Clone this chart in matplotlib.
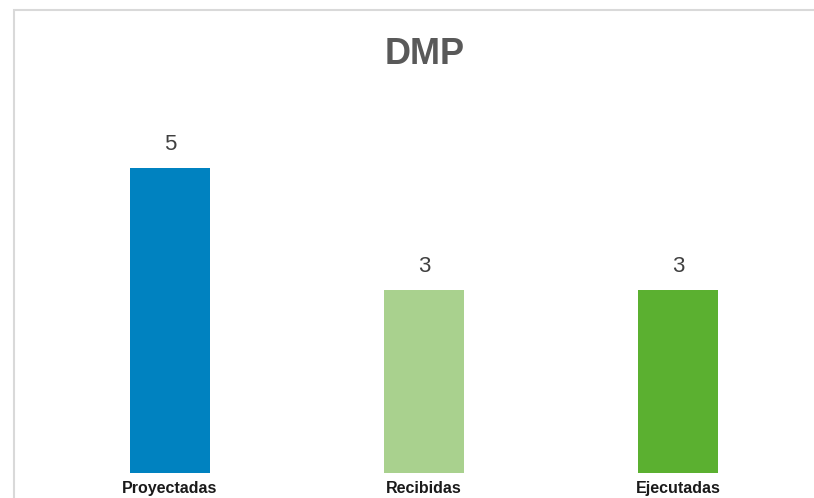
import matplotlib
matplotlib.use('Agg')
import matplotlib.pyplot as plt
from matplotlib.patches import Rectangle

plt.rcParams['font.family'] = ['Liberation Sans', 'DejaVu Sans']

# data
categorias = ['Proyectadas', 'Recibidas', 'Ejecutadas']
valores = [5, 3, 3]
colores = ['#0082C0', '#A9D18E', '#5BB030']

fig = plt.figure(figsize=(8.14, 4.98), dpi=100)
# light gray frame like the excel chart border
fig.patches.append(Rectangle((14/814, -0.1), 1.0, 1 - 10/498 + 0.1, transform=fig.transFigure,
                             fill=False, edgecolor='#D9D9D9', linewidth=1.5))

ax = fig.add_axes([43/814, 25/498, 762/814, 366/498])
x = range(len(categorias))
bars = ax.bar(x, valores, width=0.315, color=colores)
for b, v in zip(bars, valores):
    ax.text(b.get_x() + b.get_width()/2, v + 0.22, str(v), ha='center', va='bottom',
            fontsize=16, color='#404040')

ax.set_xlim(-0.5, 2.5)
ax.set_ylim(0, 6)
ax.set_xticks(list(x))
ax.set_xticklabels(categorias, fontweight='bold', fontsize=11.5, color='#1a1a1a')
ax.tick_params(axis='x', length=0, pad=6)
ax.set_yticks([])
for s in ax.spines.values():
    s.set_visible(False)

fig.text(0.522, 1 - 55/498, 'DMP', ha='center', va='center', fontsize=26,
         fontweight='bold', color='#595959')

fig.savefig('out.png', dpi=100)
